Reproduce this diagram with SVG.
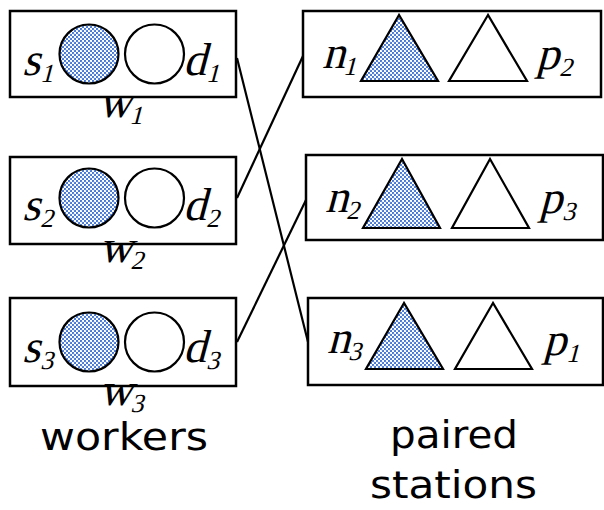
<svg xmlns="http://www.w3.org/2000/svg" width="604" height="510" viewBox="0 0 604 510">
  <defs>
    <!-- fine blue checker fill used for the source / pickup shapes -->
    <pattern id="checker" width="4" height="4" patternUnits="userSpaceOnUse">
      <rect width="4" height="4" fill="#ffffff"/>
      <rect x="0" y="0" width="2" height="2" fill="#4a7bd6"/>
      <rect x="2" y="2" width="2" height="2" fill="#4a7bd6"/>
      <rect x="1.5" y="1.5" width="1" height="1" fill="#9fb8ea"/>
    </pattern>
    <style>
      .box { fill: #ffffff; stroke: #000000; stroke-width: 2.5; }
      .shape { stroke: #000000; stroke-width: 2.2; stroke-linejoin: miter; }
      .filled { fill: url(#checker); }
      .open { fill: #ffffff; }
      .var { font-family: "Liberation Serif", "Times New Roman", serif; font-style: normal; font-size: 46px; fill: #000000; }
      .sub { font-size: 26px; }
      .caption { font-family: "DejaVu Sans", "Noto Sans", sans-serif; font-size: 37px; fill: #000000; }
      .link { stroke: #000000; stroke-width: 2.2; fill: none; }
    </style>
  </defs>

  <!-- workers; variable labels are upright serif glyphs slanted by skewX -->
  <g id="worker1">
    <rect class="box" x="10" y="11" width="226" height="86"/>
    <circle class="shape filled" cx="89" cy="54" r="29.5"/>
    <circle class="shape open" cx="154.5" cy="54" r="29.5"/>
    <text class="var" transform="translate(22,75) skewX(-15)">s<tspan class="sub" dx="2" dy="7">1</tspan></text>
    <text class="var" transform="translate(183,75) skewX(-15)">d<tspan class="sub" dx="2" dy="7">1</tspan></text>
    <text class="var" transform="translate(98,117) skewX(-15)">w<tspan class="sub" dx="0" dy="7">1</tspan></text>
  </g>

  <g id="worker2">
    <rect class="box" x="10" y="157" width="226" height="87"/>
    <circle class="shape filled" cx="89" cy="198" r="29.5"/>
    <circle class="shape open" cx="154.5" cy="198" r="29.5"/>
    <text class="var" transform="translate(22,220) skewX(-15)">s<tspan class="sub" dx="2" dy="7">2</tspan></text>
    <text class="var" transform="translate(183,220) skewX(-15)">d<tspan class="sub" dx="2" dy="7">2</tspan></text>
    <text class="var" transform="translate(99,262) skewX(-15)">w<tspan class="sub" dx="0" dy="7">2</tspan></text>
  </g>

  <g id="worker3">
    <rect class="box" x="10" y="298" width="226" height="88"/>
    <circle class="shape filled" cx="89" cy="342" r="29.5"/>
    <circle class="shape open" cx="154.5" cy="342" r="29.5"/>
    <text class="var" transform="translate(22,362) skewX(-15)">s<tspan class="sub" dx="2" dy="7">3</tspan></text>
    <text class="var" transform="translate(183,362) skewX(-15)">d<tspan class="sub" dx="2" dy="7">3</tspan></text>
    <text class="var" transform="translate(99,405) skewX(-15)">w<tspan class="sub" dx="0" dy="7">3</tspan></text>
  </g>

  <!-- paired stations -->
  <g id="station1">
    <rect class="box" x="303" y="11" width="298" height="86"/>
    <polygon class="shape filled" points="399,15 361,81 438,81"/>
    <polygon class="shape open" points="488,15 449,81 527,81"/>
    <text class="var" transform="translate(322,68) skewX(-15)">n<tspan class="sub" dx="0" dy="7">1</tspan></text>
    <text class="var" transform="translate(536,69) skewX(-15)">p<tspan class="sub" dx="2" dy="7">2</tspan></text>
  </g>

  <g id="station2">
    <rect class="box" x="306" y="155" width="297" height="85"/>
    <polygon class="shape filled" points="402,159 363,228 440,228"/>
    <polygon class="shape open" points="490,159 452,228 529,228"/>
    <text class="var" transform="translate(325,212) skewX(-15)">n<tspan class="sub" dx="0" dy="7">2</tspan></text>
    <text class="var" transform="translate(539,213) skewX(-15)">p<tspan class="sub" dx="2" dy="7">3</tspan></text>
  </g>

  <g id="station3">
    <rect class="box" x="308" y="298" width="295" height="87"/>
    <polygon class="shape filled" points="404,303 366,369 443,369"/>
    <polygon class="shape open" points="493,303 455,369 532,369"/>
    <text class="var" transform="translate(327,353) skewX(-15)">n<tspan class="sub" dx="0" dy="7">3</tspan></text>
    <text class="var" transform="translate(543,355) skewX(-15)">p<tspan class="sub" dx="2" dy="7">1</tspan></text>
  </g>

  <!-- assignments between workers and stations -->
  <g id="connectors">
    <line class="link" x1="237" y1="58" x2="308" y2="342"/>
    <line class="link" x1="237" y1="198" x2="303" y2="56"/>
    <line class="link" x1="237" y1="342" x2="306" y2="200"/>
  </g>

  <!-- group captions -->
  <g id="captions">
    <text class="caption" x="40" y="450" textLength="168" lengthAdjust="spacingAndGlyphs">workers</text>
    <text class="caption" x="390" y="448" textLength="128" lengthAdjust="spacingAndGlyphs">paired</text>
    <text class="caption" x="370" y="498" textLength="167" lengthAdjust="spacingAndGlyphs">stations</text>
  </g>
</svg>
